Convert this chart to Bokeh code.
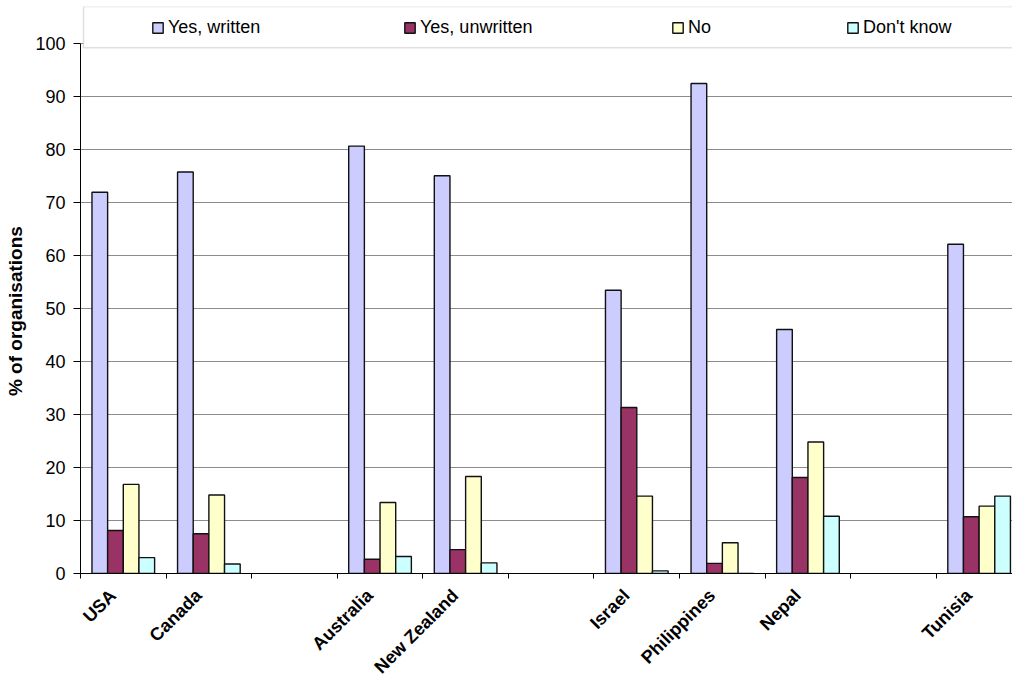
from math import pi

from bokeh.plotting import figure
from bokeh.models import (ColumnDataSource, Range1d, FixedTicker, Legend,
                          LegendItem, BoxAnnotation)
from bokeh.embed import file_html
from bokeh.resources import INLINE

# ---------------- data ----------------
categories = ["USA", "Canada", "", "Australia", "New Zealand", "",
              "Israel", "Philippines", "Nepal", "", "Tunisia"]
yes_written = [71.9, 75.7, None, 80.6, 75.0, None, 53.4, 92.4, 46.0, None, 62.1]
yes_unwritten = [8.1, 7.5, None, 2.7, 4.5, None, 31.3, 1.9, 18.1, None, 10.7]
no_policy = [16.8, 14.8, None, 13.4, 18.3, None, 14.6, 5.8, 24.8, None, 12.7]
dont_know = [3.0, 1.8, None, 3.2, 2.0, None, 0.5, 0.0, 10.8, None, 14.6]
series_names = ["Yes, written", "Yes, unwritten", "No", "Don't know"]
series_colors = ["#CCCCFF", "#993366", "#FFFFCC", "#CCFFFF"]
y_ticks = list(range(0, 101, 10))
y_title = "% of organisations"

series_values = [yes_written, yes_unwritten, no_policy, dont_know]

FONT = "Liberation Sans"
BAR_W = 0.183
LABEL_SHIFT = -0.12   # label anchor slightly left of the slot centre

p = figure(width=1012, height=687,
           x_range=Range1d(0, 10.89), y_range=Range1d(0, 106.92),
           output_backend="svg", toolbar_location=None,
           min_border_left=80, min_border_right=0,
           min_border_top=6, min_border_bottom=114)
p.outline_line_color = None
p.background_fill_color = "white"
p.border_fill_color = "white"

renderers = []
for k, (vals, color) in enumerate(zip(series_values, series_colors)):
    xs, tops = [], []
    for i, v in enumerate(vals):
        if v is None:
            continue
        xs.append(i + 0.5 + (k - 1.5) * BAR_W)
        tops.append(v)
    src = ColumnDataSource(dict(x=xs, top=tops))
    r = p.vbar(x="x", top="top", bottom=0, width=BAR_W, source=src,
               fill_color=color, line_color="#111111", line_width=1.4)
    renderers.append(r)

# ---------------- axes ----------------
label_pos = [i + 0.5 + LABEL_SHIFT for i, c in enumerate(categories) if c]
bounds = list(range(0, len(categories) + 1))
p.xaxis.ticker = FixedTicker(ticks=label_pos, minor_ticks=bounds)
p.xaxis.major_label_overrides = {i + 0.5 + LABEL_SHIFT: c
                                 for i, c in enumerate(categories) if c}
p.xaxis.major_label_orientation = pi / 4
p.xaxis.major_tick_in = 0
p.xaxis.major_tick_out = 0
p.xaxis.minor_tick_in = 0
p.xaxis.minor_tick_out = 5
p.xaxis.minor_tick_line_color = "black"
p.xaxis.axis_line_color = "black"
p.xaxis.major_label_text_font = FONT
p.xaxis.major_label_text_font_size = "18px"
p.xaxis.major_label_text_font_style = "bold"
p.xaxis.major_label_text_color = "black"
p.xaxis.major_label_standoff = 14

p.yaxis.ticker = FixedTicker(ticks=y_ticks, minor_ticks=[])
p.yaxis.bounds = (0, 100)
p.yaxis.major_tick_in = 0
p.yaxis.major_tick_out = 7
p.yaxis.minor_tick_line_color = None
p.yaxis.axis_line_color = "black"
p.yaxis.major_tick_line_color = "black"
p.yaxis.major_label_text_font = FONT
p.yaxis.major_label_text_font_size = "18px"
p.yaxis.major_label_text_color = "black"
p.yaxis.major_label_standoff = 8
# trailing no-break spaces centre the visible title on the 0-100 span
p.yaxis.axis_label = y_title + "\u00a0" * 8
p.yaxis.axis_label_text_font = FONT
p.yaxis.axis_label_text_font_size = "19px"
p.yaxis.axis_label_text_font_style = "bold"
p.yaxis.axis_label_text_color = "black"
p.yaxis.axis_label_standoff = 6

p.xgrid.visible = False
p.ygrid.ticker = FixedTicker(ticks=y_ticks)
p.ygrid.grid_line_color = "#8c8c8c"
p.ygrid.grid_line_width = 1

# ---------------- legend ----------------
box = BoxAnnotation(left=3 / 85.6, right=12, bottom=99.13, fill_color="white",
                    fill_alpha=1.0, line_color="#999999", line_width=1.5)
p.add_layout(box)

legend_x = [71, 323, 591, 766]
for name, r, lx in zip(series_names, renderers, legend_x):
    lg = Legend(items=[LegendItem(label=name, renderers=[r])],
                location=(lx, 535), orientation="horizontal",
                border_line_color=None, background_fill_alpha=0,
                padding=0, margin=0, spacing=0,
                glyph_width=13, glyph_height=13, label_standoff=4,
                label_height=20,
                label_text_font=FONT, label_text_font_size="18px",
                label_text_color="black")
    p.add_layout(lg)

open("out.html", "w").write(file_html(p, INLINE, title="organisations"))
